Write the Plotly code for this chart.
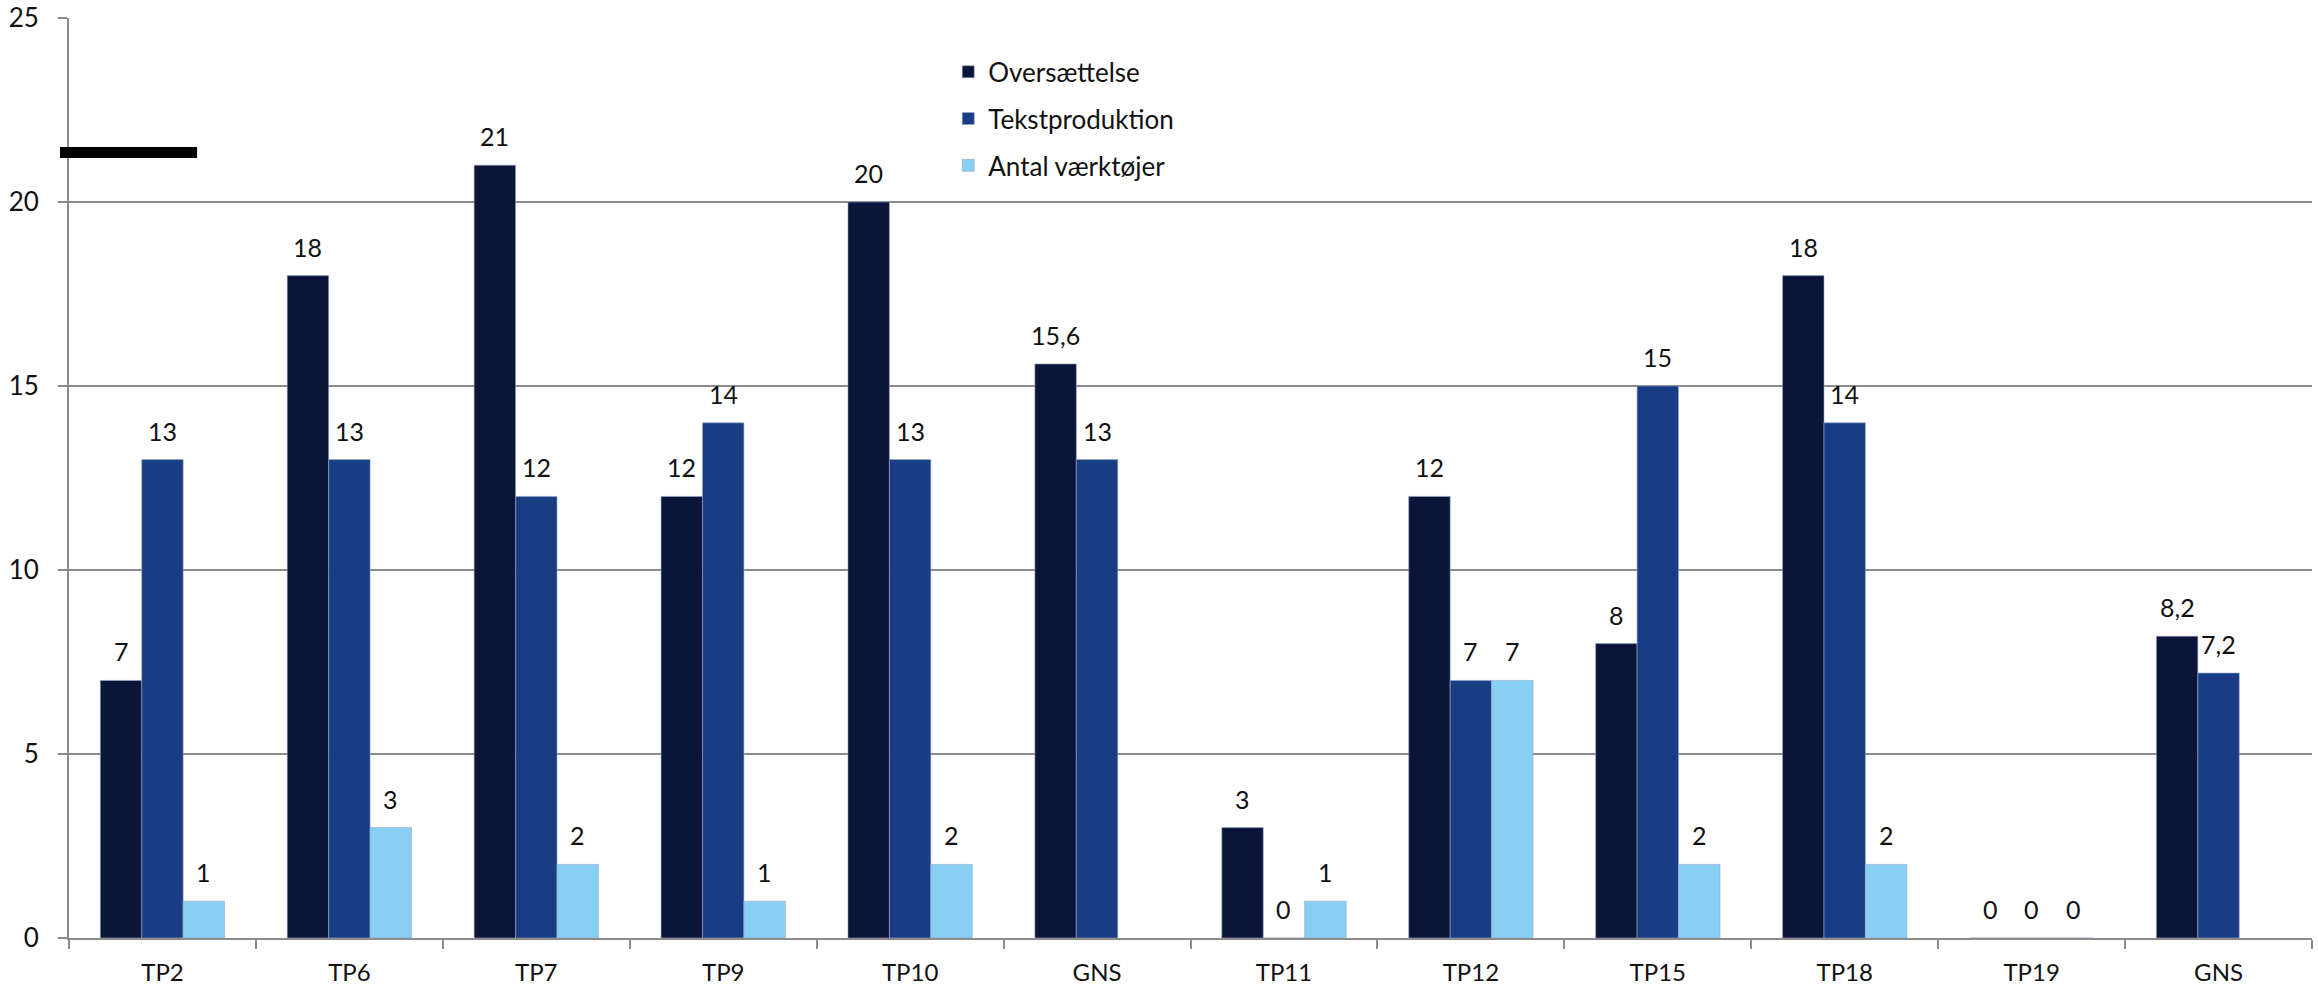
import plotly.graph_objects as go

# Participants / averages along the x axis (two separate averages, both labelled GNS)
category_ids = ["TP2", "TP6", "TP7", "TP9", "TP10", "GNS_a", "TP11", "TP12", "TP15", "TP18", "TP19", "GNS_b"]
category_labels = ["TP2", "TP6", "TP7", "TP9", "TP10", "GNS", "TP11", "TP12", "TP15", "TP18", "TP19", "GNS"]

oversaettelse = [7, 18, 21, 12, 20, 15.6, 3, 12, 8, 18, 0, 8.2]
tekstproduktion = [13, 13, 12, 14, 13, 13, 0, 7, 15, 14, 0, 7.2]
antal_vaerktoejer = [1, 3, 2, 1, 2, None, 1, 7, 2, 2, 0, None]

series_names = ["Oversættelse", "Tekstproduktion", "Antal værktøjer"]
series_colors = ["#0B1539", "#193D84", "#88D0F3"]
series_values = [oversaettelse, tekstproduktion, antal_vaerktoejer]

W, H = 2318, 986
M_L, M_R, M_T, M_B = 69, 6, 18, 48
BARGAP = 0.335
plot_w = W - M_L - M_R
bar_px = plot_w / len(category_ids) * (1 - BARGAP) / 3

FONT = "Lato, 'Noto Sans', sans-serif"


def fmt(v):
    return f"{v:g}".replace(".", ",")


fig = go.Figure()
annotations = []
for i, (name, color, vals) in enumerate(zip(series_names, series_colors, series_values)):
    fig.add_trace(go.Bar(
        x=category_ids,
        y=vals,
        name=name,
        legendgroup=name,
        marker=dict(color=color, line=dict(color="rgba(150,165,195,0.6)", width=1)),
        hoverinfo="x+y+name",
    ))
    for cid, v in zip(category_ids, vals):
        if v is None:
            continue
        annotations.append(dict(
            x=cid, y=v, xref="x", yref="y",
            text=fmt(v), showarrow=False,
            xanchor="center", yanchor="bottom",
            xshift=(i - 1) * bar_px, yshift=12,
            font=dict(family=FONT, size=25, color="#111111"),
        ))

fig.update_layout(
    width=W, height=H,
    margin=dict(l=M_L, r=M_R, t=M_T, b=M_B, pad=0, autoexpand=False),
    paper_bgcolor="white", plot_bgcolor="white",
    barmode="group", bargap=BARGAP, bargroupgap=0,
    font=dict(family=FONT, color="#111111"),
    showlegend=True,
    legend=dict(
        x=0.392, y=0.967, xanchor="left", yanchor="top",
        bgcolor="rgba(0,0,0,0)", borderwidth=0,
        font=dict(size=26, color="#111111"),
        tracegroupgap=10,
    ),
    annotations=annotations,
    shapes=[dict(
        type="rect", xref="paper", yref="paper",
        x0=-0.004, x1=0.0571, y0=0.8478, y1=0.8598,
        fillcolor="black", line=dict(width=0), layer="above",
    )],
)

fig.update_xaxes(
    type="category", automargin=False,
    tickmode="array", tickvals=category_ids, ticktext=category_labels,
    tickson="boundaries", ticks="outside", ticklen=9, tickwidth=2, tickcolor="#8c8c8c",
    ticklabelstandoff=12,
    showline=True, linecolor="#8c8c8c", linewidth=2,
    showgrid=False,
    tickfont=dict(size=24, color="#111111"),
)
fig.update_yaxes(
    range=[0, 25], dtick=5, tick0=0, automargin=False,
    showgrid=True, gridcolor="#8c8c8c", gridwidth=2,
    showline=True, linecolor="#8c8c8c", linewidth=2,
    ticks="outside", ticklen=9, tickwidth=2, tickcolor="#8c8c8c",
    ticklabelstandoff=14,
    zeroline=False,
    tickfont=dict(size=26, color="#111111"),
)

fig.write_html("out.html")
